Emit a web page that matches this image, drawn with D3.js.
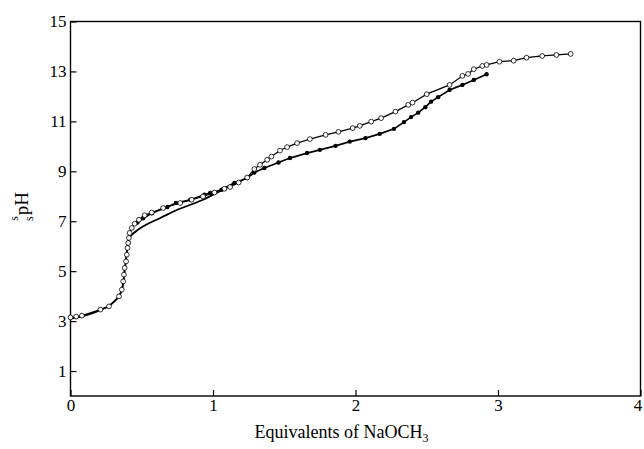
<!DOCTYPE html>
<html>
<head>
<meta charset="utf-8">
<script src="https://cdn.jsdelivr.net/npm/d3@7"></script>
<style>
  body { margin: 0; background: #fff; }
  text { font-family: "Liberation Serif", "Times New Roman", Tinos, "DejaVu Serif", serif; fill: #000; }
</style>
</head>
<body>
<div id="titration"></div>
<script>
// open circles
var openX = [0.00, 0.04, 0.08, 0.21, 0.27, 0.34, 0.36, 0.37, 0.375, 0.38, 0.39, 0.395, 0.40, 0.405, 0.41, 0.415, 0.43, 0.45, 0.48, 0.52,
  0.57, 0.65, 0.77, 0.85, 0.93, 1.01, 1.08, 1.12, 1.18, 1.24, 1.29, 1.33, 1.38, 1.41, 1.47, 1.52, 1.59, 1.68, 1.79, 1.88,
  1.98, 2.03, 2.11, 2.18, 2.28, 2.37, 2.40, 2.50, 2.66, 2.75, 2.79, 2.83, 2.89, 2.92, 3.01, 3.11, 3.20, 3.31, 3.41, 3.51];
var openY = [3.15, 3.18, 3.22, 3.46, 3.59, 3.99, 4.26, 4.59, 4.86, 5.13, 5.39, 5.66, 5.93, 6.13, 6.33, 6.53, 6.73, 6.90, 7.06, 7.24,
  7.35, 7.53, 7.73, 7.86, 7.99, 8.15, 8.30, 8.37, 8.55, 8.75, 9.09, 9.26, 9.46, 9.59, 9.83, 9.97, 10.13, 10.29, 10.46, 10.58,
  10.73, 10.82, 10.99, 11.13, 11.39, 11.66, 11.75, 12.09, 12.46, 12.82, 12.90, 13.09, 13.22, 13.26, 13.39, 13.43, 13.55, 13.62, 13.66, 13.70];

// filled circles
var filledX = [0.47, 0.51, 0.57, 0.68, 0.74, 0.84, 0.94, 0.98, 1.06, 1.15, 1.24, 1.29, 1.36, 1.46, 1.54, 1.66, 1.75, 1.86, 1.96, 2.07,
  2.17, 2.27, 2.34, 2.39, 2.44, 2.49, 2.53, 2.58, 2.66, 2.75, 2.83, 2.92];
var filledY = [6.95, 7.12, 7.32, 7.57, 7.73, 7.86, 8.06, 8.13, 8.26, 8.53, 8.73, 8.95, 9.13, 9.35, 9.53, 9.73, 9.86, 10.02, 10.19, 10.33,
  10.50, 10.70, 10.97, 11.17, 11.35, 11.57, 11.79, 11.97, 12.26, 12.46, 12.66, 12.89];

// smooth curve without markers (lower branch)
var fitX = [0.00, 0.10, 0.20, 0.30, 0.35, 0.37, 0.38, 0.39, 0.40, 0.41, 0.46, 0.53, 0.63, 0.75, 0.93, 1.10, 1.15];
var fitY = [3.10, 3.22, 3.42, 3.75, 4.10, 4.50, 5.00, 5.50, 6.00, 6.30, 6.60, 6.86, 7.13, 7.46, 7.86, 8.37, 8.53];

var xTicks = [0, 1, 2, 3, 4];
var yTicks = [1, 3, 5, 7, 9, 11, 13, 15];

function drawChart_titration()
{
    var width = 644;
    var height = 449;
    var margin = {left: 70.5, right: 3.5, top: 21.5, bottom: 53};
    var serif = "'Liberation Serif', 'Times New Roman', Tinos, 'DejaVu Serif', serif";

    var svg = d3.select("#titration")
        .append("svg")
        .attr("width", width)
        .attr("height", height);

    var x = d3.scaleLinear().domain([0, 4]).range([margin.left, width - margin.right]);
    var y = d3.scaleLinear().domain([0, 15]).range([height - margin.bottom, margin.top]);

    // frame
    svg.append("rect")
        .attr("x", x(0))
        .attr("y", y(15))
        .attr("width", x(4) - x(0))
        .attr("height", y(0) - y(15))
        .style("fill", "none")
        .style("stroke", "#000")
        .style("stroke-width", 1.4);

    // axes, ticks pointing inside
    var xAxis = svg.append("g")
        .attr("transform", "translate(0," + y(0) + ")")
        .call(d3.axisBottom(x).tickValues(xTicks).tickFormat(d3.format("d"))
            .tickSizeInner(-6).tickSizeOuter(0).tickPadding(3));
    var yAxis = svg.append("g")
        .attr("transform", "translate(" + x(0) + ",0)")
        .call(d3.axisLeft(y).tickValues(yTicks).tickFormat(d3.format("d"))
            .tickSizeInner(-6).tickSizeOuter(0).tickPadding(4));

    [xAxis, yAxis].forEach(function(g) {
        g.attr("font-family", null).attr("font-size", null);
        g.select(".domain").remove();
        g.selectAll("line").style("stroke", "#000").style("stroke-width", 1.2);
        g.selectAll("text")
            .style("font-family", serif)
            .style("font-size", "17px");
    });
    // last label sits on the window edge
    xAxis.selectAll(".tick text").filter(function(d) { return d === 4; }).attr("dx", -3);

    // lines
    var line = d3.line()
        .x(function(d) { return x(d[0]); })
        .y(function(d) { return y(d[1]); });

    var fitData = d3.zip(fitX, fitY);
    var openData = d3.zip(openX, openY);
    var filledData = d3.zip(filledX, filledY);

    svg.append("path")
        .attr("d", line.curve(d3.curveMonotoneX)(fitData))
        .style("fill", "none")
        .style("stroke", "#000")
        .style("stroke-width", 1.8);

    svg.append("path")
        .attr("d", line.curve(d3.curveLinear)(filledData))
        .style("fill", "none")
        .style("stroke", "#000")
        .style("stroke-width", 1.7);

    svg.append("path")
        .attr("d", line.curve(d3.curveLinear)(openData))
        .style("fill", "none")
        .style("stroke", "#000")
        .style("stroke-width", 1.2);

    // markers
    svg.selectAll("circle.filled")
        .data(filledData)
        .enter()
        .append("circle")
        .attr("class", "filled")
        .attr("cx", function(d) { return x(d[0]); })
        .attr("cy", function(d) { return y(d[1]); })
        .attr("r", 2.2)
        .style("fill", "#000");

    svg.selectAll("circle.open")
        .data(openData)
        .enter()
        .append("circle")
        .attr("class", "open")
        .attr("cx", function(d) { return x(d[0]); })
        .attr("cy", function(d) { return y(d[1]); })
        .attr("r", 2.4)
        .style("fill", "#fff")
        .style("stroke", "#000")
        .style("stroke-width", 0.8);

    // axis titles
    svg.append("text")
        .attr("x", (x(0) + x(4)) / 2 - 14)
        .attr("y", 438)
        .attr("text-anchor", "middle")
        .style("font-family", serif)
        .style("font-size", "18px")
        .text("Equivalents of NaOCH")
        .append("tspan")
        .attr("dy", 4)
        .style("font-size", "12px")
        .text("3");

    var yTitle = svg.append("text")
        .attr("transform", "translate(28,221) rotate(-90)")
        .style("font-family", serif)
        .style("font-size", "19px");
    yTitle.append("tspan").attr("dy", -10).style("font-size", "12px").text("s");
    yTitle.append("tspan").attr("dx", -5).attr("dy", 15).style("font-size", "12px").text("s");
    yTitle.append("tspan").attr("dx", 1).attr("dy", -5).text("pH");
};

drawChart_titration();
</script>
</body>
</html>
